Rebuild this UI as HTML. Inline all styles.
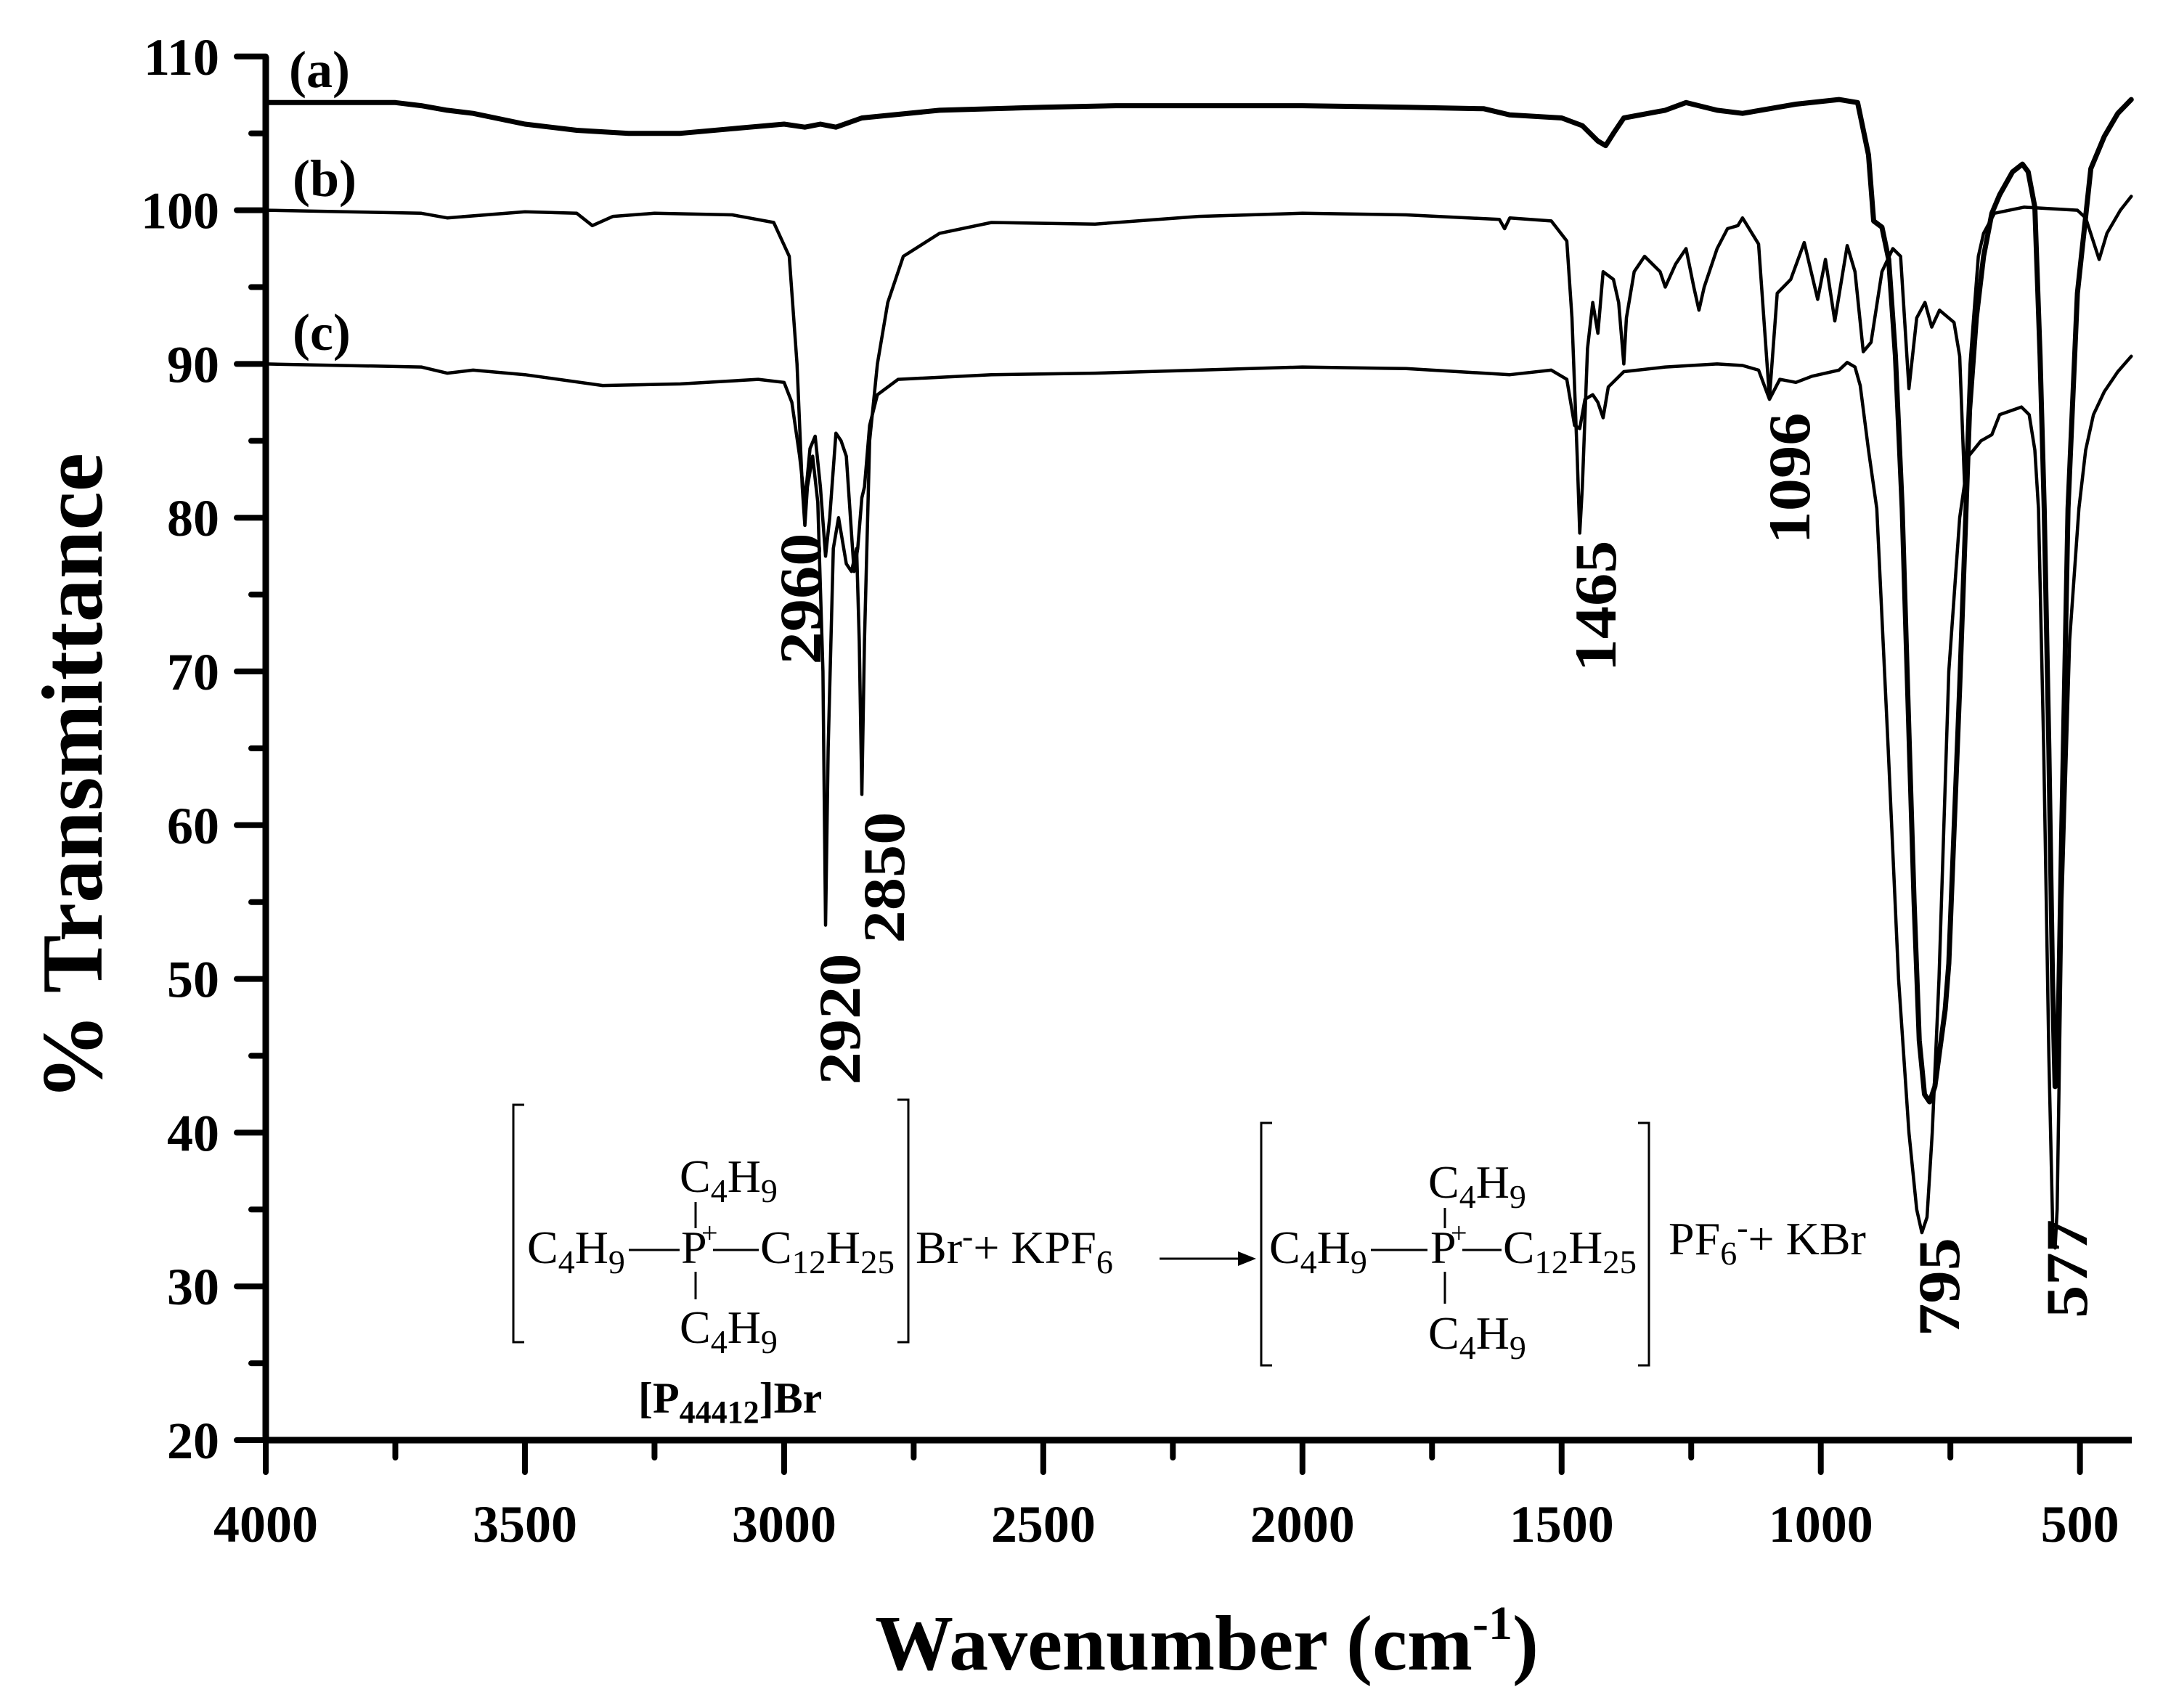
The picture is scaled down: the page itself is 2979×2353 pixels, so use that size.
<!DOCTYPE html>
<html><head><meta charset="utf-8"><style>
html,body{margin:0;padding:0;background:#fff}
svg{display:block}
text{font-family:"Liberation Serif",serif;fill:#000}
</style></head><body>
<svg id="chart" width="2979" height="2353" viewBox="0 0 2979 2353" xmlns="http://www.w3.org/2000/svg">
<g id="axes"></g>
<g id="series"></g>
<g font-weight="bold" font-size="72">
<text x="398" y="120">(a)</text>
<text x="403" y="270">(b)</text>
<text x="403" y="482">(c)</text>
</g>
<g font-weight="bold" font-size="82" text-anchor="middle">
<text transform="translate(1130,825) rotate(-90)" textLength="181" lengthAdjust="spacingAndGlyphs">2960</text>
<text transform="translate(1245,1209) rotate(-90)" textLength="181" lengthAdjust="spacingAndGlyphs">2850</text>
<text transform="translate(1184,1404) rotate(-90)" textLength="181" lengthAdjust="spacingAndGlyphs">2920</text>
<text transform="translate(2225,835) rotate(-90)" textLength="181" lengthAdjust="spacingAndGlyphs">1465</text>
<text transform="translate(2492,659) rotate(-90)" textLength="181" lengthAdjust="spacingAndGlyphs">1096</text>
<text transform="translate(2698,1773) rotate(-90)" textLength="136" lengthAdjust="spacingAndGlyphs">795</text>
<text transform="translate(2874,1748) rotate(-90)" textLength="136" lengthAdjust="spacingAndGlyphs">577</text>
</g>
<text transform="translate(140,1070) rotate(-90)" text-anchor="middle" font-weight="bold" font-size="120">% Transmittance</text>
<text x="1662" y="2300" text-anchor="middle" font-weight="bold" font-size="108">Wavenumber (cm<tspan dy="-42" font-size="66">-1</tspan><tspan dy="42">)</tspan></text>
<g font-size="64" stroke-linecap="butt">
<path d="M722,1522 H707 V1849 H722 M1236,1515 H1251 V1849 H1236" fill="none" stroke="#000" stroke-width="3"/>
<text x="936" y="1642">C<tspan dy="14" font-size="46">4</tspan><tspan dy="-14">H</tspan><tspan dy="14" font-size="46">9</tspan></text>
<text x="726" y="1740">C<tspan dy="14" font-size="46">4</tspan><tspan dy="-14">H</tspan><tspan dy="14" font-size="46">9</tspan></text>
<line x1="866" y1="1722" x2="936" y2="1722" stroke="#000" stroke-width="3"/>
<text x="938" y="1740" font-family="Liberation Sans,sans-serif">P</text>
<text x="966" y="1712" font-size="40">+</text>
<line x1="982" y1="1722" x2="1045" y2="1722" stroke="#000" stroke-width="3"/>
<line x1="958" y1="1656" x2="958" y2="1692" stroke="#000" stroke-width="3"/>
<line x1="958" y1="1752" x2="958" y2="1790" stroke="#000" stroke-width="3"/>
<text x="1047" y="1740" textLength="185" lengthAdjust="spacingAndGlyphs">C<tspan dy="14" font-size="46">12</tspan><tspan dy="-14">H</tspan><tspan dy="14" font-size="46">25</tspan></text>
<text x="936" y="1850">C<tspan dy="14" font-size="46">4</tspan><tspan dy="-14">H</tspan><tspan dy="14" font-size="46">9</tspan></text>
<text x="879" y="1946" font-weight="bold" font-size="60">[P<tspan dy="14" font-size="44">44412</tspan><tspan dy="-14">]Br</tspan></text>
<text x="1261" y="1740">Br<tspan dy="-22" font-size="46">-</tspan><tspan dy="22">+  KPF</tspan><tspan dy="14" font-size="46">6</tspan></text>
<line x1="1597" y1="1734" x2="1715" y2="1734" stroke="#000" stroke-width="3"/>
<path d="M1730,1734 L1705,1724 L1705,1744 Z" fill="#000"/>
<path d="M1752,1547 H1737 V1881 H1752 M2256,1547 H2271 V1881 H2256" fill="none" stroke="#000" stroke-width="3"/>
<text x="1967" y="1650">C<tspan dy="14" font-size="46">4</tspan><tspan dy="-14">H</tspan><tspan dy="14" font-size="46">9</tspan></text>
<text x="1748" y="1740">C<tspan dy="14" font-size="46">4</tspan><tspan dy="-14">H</tspan><tspan dy="14" font-size="46">9</tspan></text>
<line x1="1888" y1="1722" x2="1966" y2="1722" stroke="#000" stroke-width="3"/>
<text x="1970" y="1740" font-family="Liberation Sans,sans-serif">P</text>
<text x="1998" y="1712" font-size="40">+</text>
<line x1="2014" y1="1722" x2="2068" y2="1722" stroke="#000" stroke-width="3"/>
<line x1="1990" y1="1664" x2="1990" y2="1692" stroke="#000" stroke-width="3"/>
<line x1="1990" y1="1752" x2="1990" y2="1796" stroke="#000" stroke-width="3"/>
<text x="2070" y="1740" textLength="184" lengthAdjust="spacingAndGlyphs">C<tspan dy="14" font-size="46">12</tspan><tspan dy="-14">H</tspan><tspan dy="14" font-size="46">25</tspan></text>
<text x="1967" y="1858">C<tspan dy="14" font-size="46">4</tspan><tspan dy="-14">H</tspan><tspan dy="14" font-size="46">9</tspan></text>
<text x="2298" y="1728">PF<tspan dy="14" font-size="46">6</tspan><tspan dy="-36" font-size="46">-</tspan><tspan dy="22">+ KBr</tspan></text>
</g>
</svg>
<script>
const xTicks = [4000,3500,3000,2500,2000,1500,1000,500];
const yTicks = [20,30,40,50,60,70,80,90,100,110];
const wnA = [4000,3750,3700,3650,3600,3500,3400,3300,3200,3100,3000,2960,2930,2900,2850,2700,2500,2360,2200,2000,1800,1650,1600,1500,1460,1430,1415,1400,1380,1300,1260,1200,1151,1048,965,929,908,898,882,869,856,843,830,820,810,800,790,780,770,760,753,732,713,700,686,670,655,630,611,600,587,577,569,560,553,548,543,535,523,505,479,453,427,401];
const tA = [107,107,106.8,106.5,106.3,105.6,105.2,105,105,105.3,105.6,105.4,105.6,105.4,106,106.5,106.7,106.8,106.8,106.8,106.7,106.6,106.2,106,105.5,104.5,104.2,105,106,106.5,107,106.5,106.3,106.9,107.2,107,103.6,99.3,98.9,96.8,90.5,80.6,66,55,46,42.5,42,43,45.5,48,51,69,87,93,97,99.8,101,102.5,103,102.5,100.2,90.5,80.6,65,50,43,45,60,80.6,94.6,102.7,104.8,106.3,107.2];
const wnB = [4000,3700,3650,3500,3400,3370,3330,3250,3100,3020,2990,2975,2965,2960,2955,2945,2935,2925,2920,2915,2905,2895,2880,2870,2860,2855,2850,2845,2835,2820,2800,2770,2700,2600,2400,2200,2000,1800,1620,1610,1600,1520,1490,1480,1470,1465,1460,1450,1440,1430,1420,1400,1390,1380,1375,1360,1340,1310,1300,1280,1260,1245,1235,1225,1200,1180,1160,1151,1120,1099,1084,1058,1032,1006,991,973,949,934,918,903,882,861,846,830,815,799,786,771,743,732,722,712,696,686,665,608,505,489,463,448,422,401];
const tB = [100,99.8,99.5,99.9,99.8,99,99.6,99.8,99.7,99.2,97,90,82,79.5,82,84,81,70,53.5,65,78,80,77,76.5,78,72,62,72,85,90,94,97,98.5,99.2,99.1,99.6,99.8,99.7,99.4,98.8,99.5,99.3,98,93,84,79,82,91,94,92,96,95.5,94,90,93,96,97,96,95,96.5,97.5,95,93.5,95,97.5,98.8,99,99.5,97.8,87.8,94.6,95.5,97.9,94.2,96.8,92.8,97.7,96,90.8,91.4,96,97.5,97,88.4,93,94,92.4,93.5,92.7,90.5,81.5,90,97,98.5,99.8,100.2,100,99.5,96.8,98.5,100,100.9];
const wnC = [4000,3700,3650,3600,3500,3350,3200,3050,3000,2985,2970,2960,2950,2940,2930,2920,2912,2900,2890,2880,2870,2865,2858,2850,2845,2835,2820,2780,2600,2400,2200,2000,1800,1600,1520,1490,1475,1465,1455,1440,1430,1420,1410,1380,1300,1200,1151,1120,1099,1079,1048,1017,965,949,934,924,908,892,870,850,830,815,805,795,785,772,753,732,715,691,670,655,613,598,587,580,570,560,552,548,544,535,520,502,489,474,453,427,401];
const tC = [90,89.8,89.4,89.6,89.3,88.6,88.7,89,88.8,87.5,84,81,84.5,85.3,82,77.5,80,85.5,85,84,79,76.5,78,81.3,82,86,88,89,89.3,89.4,89.6,89.8,89.7,89.3,89.6,89,86,85.8,87.7,88,87.5,86.5,88.5,89.5,89.8,90,89.9,89.6,87.7,89,88.8,89.2,89.6,90.1,89.8,88.6,84.4,80.6,65,50,40,35,33.5,34.5,40,50,70,80,84,85,85.4,86.7,87.2,86.7,84.4,80.6,65,45,33,32.5,35,55,72,80.6,84.4,86.7,88.2,89.5,90.5];

const NS = 'http://www.w3.org/2000/svg';
function X(wn){ return 366 + (4000 - wn) * 0.7139; }
function Y(t){ return 1984 - (t - 20) * 21.18; }
const axes = document.getElementById('axes');
const series = document.getElementById('series');
function mk(tag, attrs, parent){ const e = document.createElementNS(NS, tag); for (const k in attrs) e.setAttribute(k, attrs[k]); parent.appendChild(e); return e; }

const yAxis = mk('line', {x1:366,y1:Y(110),x2:366,y2:Y(20)+4,stroke:'#000','stroke-width':9}, axes);


const xAxis = mk('line', {x1:362,y1:Y(20),x2:X(400),y2:Y(20),stroke:'#000','stroke-width':9}, axes);



yTicks.forEach(function(v){
  const y = Y(v);
  const tk = mk('line', {x1:326,y1:y,x2:366,y2:y,stroke:'#000','stroke-width':8,'stroke-linecap':'round'}, axes);
  
  
  if (v < 110) {
    const m = mk('line', {x1:346,y1:Y(v+5),x2:366,y2:Y(v+5),stroke:'#000','stroke-width':8,'stroke-linecap':'round'}, axes);
    
    
  }
  const tx = mk('text', {x:302,y:y+25,'text-anchor':'end','font-weight':'bold','font-size':72}, axes);
  tx.textContent = v;
  
  
});
xTicks.forEach(function(v){
  const x = X(v);
  const tk = mk('line', {x1:x,y1:Y(20),x2:x,y2:Y(20)+44,stroke:'#000','stroke-width':8,'stroke-linecap':'round'}, axes);
  
  
  const m = mk('line', {x1:X(v-250),y1:Y(20),x2:X(v-250),y2:Y(20)+24,stroke:'#000','stroke-width':8,'stroke-linecap':'round'}, axes);
  
  
  const tx = mk('text', {x:x,y:2124,'text-anchor':'middle','font-weight':'bold','font-size':72}, axes);
  tx.textContent = v;
  
  
});

function drawSeries(wn, t, w, name){
  const pts = wn.map(function(v,i){ return X(v).toFixed(1) + ',' + Y(t[i]).toFixed(1); }).join(' ');
  const pl = mk('polyline', {points:pts,fill:'none',stroke:'#000','stroke-width':w,'stroke-linejoin':'round','stroke-linecap':'round'}, series);
  
  
}
drawSeries(wnA, tA, 7, 'spectrum-a');
drawSeries(wnB, tB, 4.5, 'spectrum-b');
drawSeries(wnC, tC, 4.5, 'spectrum-c');
</script>
</body></html>
